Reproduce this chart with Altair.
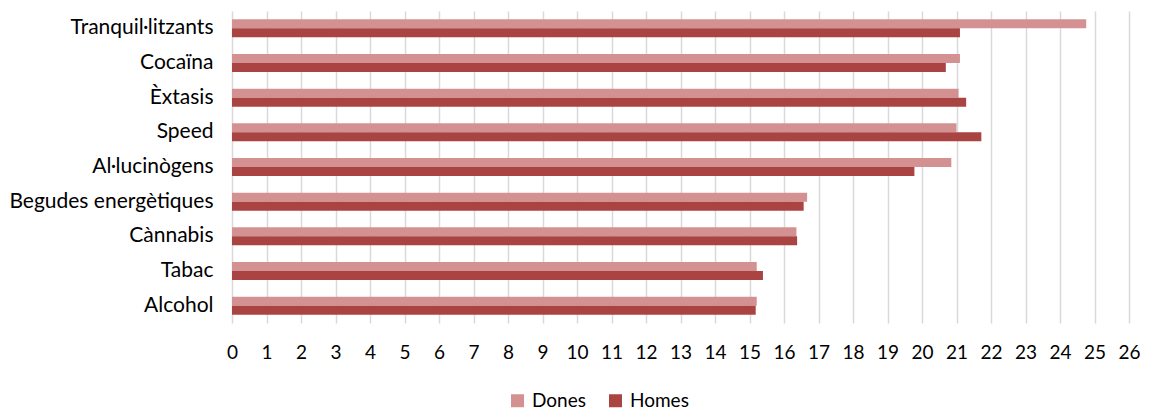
import altair as alt
import pandas as pd

categories = ["Tranquil·litzants", "Cocaïna", "Èxtasis", "Speed", "Al·lucinògens",
              "Begudes energètiques", "Cànnabis", "Tabac", "Alcohol"]
dones = [24.76, 21.10, 21.06, 21.00, 20.85, 16.67, 16.36, 15.21, 15.21]
homes = [21.10, 20.69, 21.28, 21.72, 19.78, 16.57, 16.38, 15.39, 15.18]
series = ["Dones", "Homes"]
colors = ["#d39291", "#a94442"]
x_ticks = list(range(0, 27))

rows = []
for c, d, h in zip(categories, dones, homes):
    rows.append({"cat": c, "serie": "Dones", "value": d})
    rows.append({"cat": c, "serie": "Homes", "value": h})
df = pd.DataFrame(rows)

font = "Lato"

chart = alt.Chart(df).mark_bar().encode(
    y=alt.Y("cat:N", sort=categories,
            scale=alt.Scale(paddingInner=0.48, paddingOuter=0.24),
            axis=alt.Axis(title=None, ticks=False, domain=False, labelPadding=19,
                          minExtent=223, maxExtent=223, labelFontSize=21,
                          labelColor="#000000", labelFont=font, labelLimit=300)),
    yOffset=alt.YOffset("serie:N", sort=series),
    x=alt.X("value:Q", scale=alt.Scale(domain=[0, 26], nice=False, zero=True),
            axis=alt.Axis(values=x_ticks, title=None, ticks=False, domain=False, grid=True,
                          gridColor="#d9d9d9", gridWidth=1.5, labelFontSize=19,
                          labelPadding=20, labelFont=font, labelColor="#000000",
                          labelFlush=False)),
    color=alt.Color("serie:N", scale=alt.Scale(domain=series, range=colors),
                    legend=alt.Legend(title=None, orient="none", legendX=276, legendY=380,
                                      direction="horizontal", symbolType="square",
                                      symbolSize=169, symbolStrokeWidth=0,
                                      labelFontSize=19, labelFont=font,
                                      labelColor="#000000", labelOffset=5,
                                      columnPadding=20, padding=0)),
).properties(
    width=897, height=312,
    padding={"left": 0, "top": 3, "right": 5, "bottom": 0},
).configure_view(stroke=None)

chart.save("out.html", embed_options={"renderer": "svg", "actions": False})
